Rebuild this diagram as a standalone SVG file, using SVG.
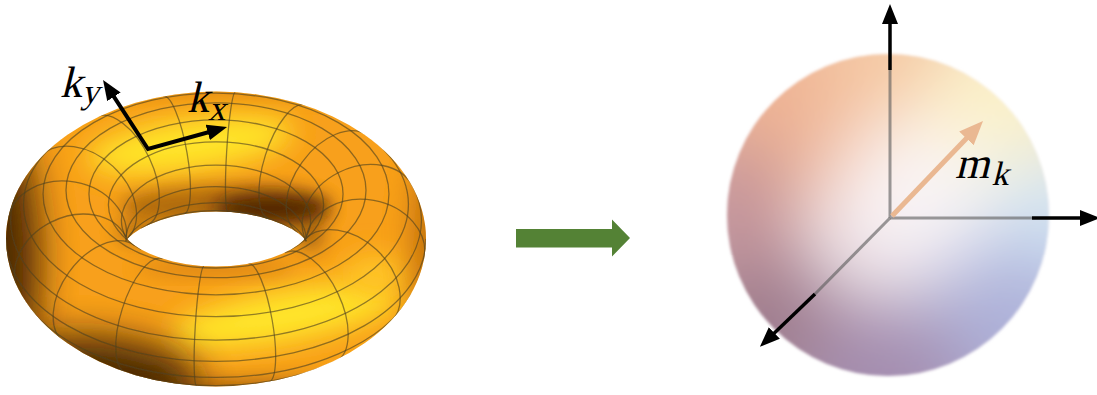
<svg xmlns="http://www.w3.org/2000/svg" width="1097" height="395" viewBox="0 0 1097 395">
  <defs>
    <style>
      .mesh{fill:none;stroke:#4f4220;stroke-opacity:.62;stroke-width:1.3}
      .mer{vector-effect:non-scaling-stroke}
      .math{font-family:"Liberation Serif","DejaVu Serif",serif;font-style:normal;fill:#000}
      .axis-in{fill:none;stroke:#5a5a5a;stroke-opacity:.6;stroke-width:3}
      .axis-out{fill:none;stroke:#000;stroke-width:3.5;marker-end:url(#head)}
    </style>
    <marker id="head" markerUnits="userSpaceOnUse" markerWidth="20" markerHeight="16" viewBox="0 0 20 16" refX="10" refY="8" orient="auto-start-reverse">
      <path d="M0 0L20 8L0 16z" fill="#000"/>
    </marker>
    <marker id="head-m" markerUnits="userSpaceOnUse" markerWidth="24" markerHeight="20" viewBox="0 0 24 20" refX="12" refY="10" orient="auto">
      <path d="M0 0L24 10L0 20z" fill="#eab892"/>
    </marker>
    <!-- ring of the torus: outer silhouette minus the hole -->
    <clipPath id="torus-clip">
      <path clip-rule="evenodd" d="M6 239A210 147.45 0 1 0 426 239A210 147.45 0 1 0 6 239Z
        M127.5 239L128.74 237.49L133.28 233.53L140.15 228.99L149.18 224.39L160.14 220.13L172.69 216.53L186.44 213.81L201.01 212.12L216 211.55L230.99 212.12L245.56 213.81L259.31 216.53L271.86 220.13L282.82 224.39L291.85 228.99L298.72 233.53L303.26 237.49L304.5 239
        L303.26 240.51L298.72 244.47L291.85 249.01L282.82 253.61L271.86 257.87L259.31 261.47L245.56 264.19L230.99 265.88L216 266.45L201.01 265.88L186.44 264.19L172.69 261.47L160.14 257.87L149.18 253.61L140.15 249.01L133.28 244.47L128.74 240.51Z"/>
    </clipPath>
    <clipPath id="sphere-clip">
      <circle cx="888" cy="215" r="161"/>
    </clipPath>
    <filter id="blur9" x="-100%" y="-100%" width="300%" height="300%"><feGaussianBlur stdDeviation="9"/></filter>
    <filter id="blur14" x="-100%" y="-100%" width="300%" height="300%"><feGaussianBlur stdDeviation="14"/></filter>
    <filter id="blur18" x="-100%" y="-100%" width="300%" height="300%"><feGaussianBlur stdDeviation="18"/></filter>
    <filter id="blur35" x="-100%" y="-100%" width="300%" height="300%"><feGaussianBlur stdDeviation="38"/></filter>
    <filter id="soft" x="-5%" y="-5%" width="110%" height="110%"><feGaussianBlur stdDeviation="0.7"/></filter>
    <filter id="soft-rim" x="-5%" y="-5%" width="110%" height="110%"><feGaussianBlur stdDeviation="1.4"/></filter>
  </defs>

  <rect width="1097" height="395" fill="#fff"/>

  <!-- torus surface with its shading -->
  <g id="torus" filter="url(#soft)">
    <g clip-path="url(#torus-clip)">
      <rect x="0" y="80" width="440" height="320" fill="#f8a01a"/>
      <ellipse cx="190" cy="145" rx="105" ry="26" transform="rotate(-8 190 145)" fill="#ffe62a" filter="url(#blur14)"/>
      <ellipse cx="285" cy="316" rx="115" ry="26" transform="rotate(-10 285 316)" fill="#ffe62a" filter="url(#blur14)"/>
      <ellipse cx="375" cy="275" rx="32" ry="20" fill="#ffc626" filter="url(#blur14)"/>
      <ellipse cx="225" cy="206" rx="105" ry="20" fill="#5a2a00" opacity=".45" filter="url(#blur9)"/>
      <ellipse cx="272" cy="209" rx="58" ry="16" fill="#3a1800" opacity=".8" filter="url(#blur9)"/>
      <ellipse cx="310" cy="236" rx="14" ry="14" fill="#5a2a00" opacity=".5" filter="url(#blur9)"/>
      <ellipse cx="136" cy="232" rx="20" ry="12" fill="#6a3500" opacity=".4" filter="url(#blur9)"/>
      <ellipse cx="216" cy="268" rx="80" ry="6" fill="#b05a00" opacity=".5" filter="url(#blur9)"/>
      <ellipse cx="-5" cy="260" rx="45" ry="140" fill="#3c1c00" opacity=".9" filter="url(#blur18)"/>
      <ellipse cx="80" cy="385" rx="120" ry="50" fill="#2e1400" opacity=".85" filter="url(#blur18)"/>
      <ellipse cx="270" cy="402" rx="190" ry="22" fill="#6a3400" opacity=".55" filter="url(#blur9)"/>
      <ellipse cx="440" cy="240" rx="28" ry="110" fill="#9a4e00" opacity=".55" filter="url(#blur14)"/>
      <ellipse cx="216" cy="86" rx="180" ry="12" fill="#d07a10" opacity=".45" filter="url(#blur9)"/>
    </g>

    <!-- mesh: parallels (circles of constant tube angle) -->
    <g id="torus-parallels" class="mesh" clip-path="url(#torus-clip)">
      <path d="M426 239A210 122.43 0 0 1 6 239"/>
      <path d="M412.15 184.74A205.43 119.77 0 1 1 19.85 184.74"/>
      <path d="M350.03 124.03A192.43 112.19 0 1 1 81.97 124.03"/>
      <ellipse cx="216" cy="193.96" rx="172.96" ry="100.84"/>
      <ellipse cx="216" cy="190.25" rx="150" ry="87.45"/>
      <ellipse cx="216" cy="193.96" rx="127.04" ry="74.06"/>
      <path d="M141.08 249.53A107.57 62.71 0 1 1 290.92 249.53"/>
      <path d="M125.7 236.72A94.57 55.13 0 1 1 306.3 236.72"/>
      <path d="M126 239A90 52.47 0 0 1 306 239"/>
      <path d="M125.7 241.28A94.57 55.13 0 0 1 306.3 241.28"/>
      <path d="M141.08 228.47A107.57 62.71 0 0 1 290.92 228.47"/>
      <path d="M350.03 353.97A192.43 112.19 0 0 1 81.97 353.97"/>
      <path d="M412.15 293.26A205.43 119.77 0 0 1 19.85 293.26"/>
    </g>

    <!-- mesh: meridians (tube cross-sections), unit circles mapped onto the surface -->
    <g id="torus-meridians" class="mesh" clip-path="url(#torus-clip)">
      <path class="mer" transform="matrix(59.67 3.655 0 -48.75 365.18 248.14)" d="M.9896 -.1441A1 1 0 0 1 -.9896 .1441"/>
      <path class="mer" transform="matrix(52.73 16.69 0 -48.75 347.82 280.73)" d="M.8326 -.5537A1 1 0 0 1 -.8326 .5537"/>
      <path class="mer" transform="matrix(37.76 27.18 0 -48.75 310.4 306.96)" d="M.6784 -.7347A1 1 0 0 1 -.6784 .7347"/>
      <path class="mer" transform="matrix(17.04 33.54 0 -48.75 258.6 322.85)" d="M.5992 -.8006A1 1 0 0 1 -.5992 .8006"/>
      <path class="mer" transform="matrix(-6.27 34.79 0 -48.75 200.33 325.97)" d="M.5851 -.8109A1 1 0 0 1 -.5851 .8109"/>
      <path class="mer" transform="matrix(-28.63 30.74 0 -48.75 144.42 315.85)" d="M.6325 -.7746A1 1 0 0 1 -.6325 .7746"/>
      <path class="mer" transform="matrix(-46.63 22.01 0 -48.75 99.44 294.03)" d="M.7518 -.6593A1 1 0 0 1 -.7518 .6593"/>
      <path class="mer" transform="matrix(-57.53 9.93 0 -48.75 72.18 263.84)" d="M.9298 -.3681A1 1 0 0 1 -.9298 .3681"/>
      <path class="mer" transform="matrix(-59.67 -3.655 0 -48.75 66.83 229.86)" d="M.9896 .1441A1 1 0 0 1 -.9896 -.1441"/>
      <path class="mer" transform="matrix(-52.73 -16.69 0 -48.75 84.18 197.27)" d="M.8326 .5537A1 1 0 0 1 -.8326 -.5537"/>
      <path class="mer" transform="matrix(-37.76 -27.18 0 -48.75 121.6 171.04)" d="M.6784 .7347A1 1 0 0 1 -.6784 -.7347"/>
      <path class="mer" transform="matrix(-17.04 -33.54 0 -48.75 173.4 155.15)" d="M.5992 .8006A1 1 0 0 1 -.5992 -.8006"/>
      <path class="mer" transform="matrix(6.27 -34.79 0 -48.75 231.68 152.03)" d="M.5851 .8109A1 1 0 0 1 -.5851 -.8109"/>
      <path class="mer" transform="matrix(28.63 -30.74 0 -48.75 287.58 162.15)" d="M.6325 .7746A1 1 0 0 1 -.6325 -.7746"/>
      <path class="mer" transform="matrix(46.63 -22.01 0 -48.75 332.57 183.97)" d="M.7518 .6593A1 1 0 0 1 -.7518 -.6593"/>
      <path class="mer" transform="matrix(57.53 -9.93 0 -48.75 359.82 214.16)" d="M.9298 .3681A1 1 0 0 1 -.9298 -.3681"/>
    </g>
  </g>

  <!-- momentum directions on the torus -->
  <g id="k-axes">
    <path d="M108.5 88.4L148 149L217.4 129.7" fill="none" stroke="#000" stroke-width="4" stroke-linejoin="miter" marker-start="url(#head)" marker-end="url(#head)"/>
    <!-- slanted serif lettering for the math symbols -->
    <text class="math" transform="translate(60 97) skewX(-14)" font-size="44">k<tspan dx="1" dy="6" font-size="35">y</tspan></text>
    <text class="math" transform="translate(187 112) skewX(-14)" font-size="44">k<tspan dx="1" dy="8" font-size="35">x</tspan></text>
  </g>

  <g id="connectors">
    <polygon id="map-arrow" points="516,229 612,229 612,219.5 630,238 612,256.5 612,247.5 516,247.5" fill="#548235"/>
  </g>

  <!-- Bloch-type sphere -->
  <g id="sphere" filter="url(#soft-rim)">
    <g clip-path="url(#sphere-clip)">
      <rect x="720" y="50" width="340" height="330" fill="#ead8e0"/>
      <g filter="url(#blur35)">
        <circle cx="785" cy="105" r="105" fill="#efb494"/>
        <circle cx="895" cy="55" r="75" fill="#f5c8a2"/>
        <circle cx="1010" cy="105" r="85" fill="#fbf1c8"/>
        <circle cx="1055" cy="235" r="80" fill="#d2e5f4"/>
        <circle cx="1005" cy="335" r="95" fill="#aeb2da"/>
        <circle cx="880" cy="395" r="95" fill="#a48eb0"/>
        <circle cx="755" cy="320" r="80" fill="#9e7c8c"/>
        <circle cx="730" cy="205" r="65" fill="#c39297"/>
        <circle cx="910" cy="195" r="80" fill="#fff" opacity=".7"/>
      </g>
    </g>
  </g>

  <g id="sphere-axes">
    <path class="axis-in" d="M890 218V70M890 218H1032"/>
    <path class="axis-in" d="M890 218L815 294" stroke="#3e3040" stroke-opacity=".7"/>
    <path class="axis-out" d="M890 70V14"/>
    <path class="axis-out" d="M1032 218H1090"/>
    <path class="axis-out" d="M815 294L767.1 339.9"/>
  </g>

  <g id="m-vector">
    <path d="M892 216L974.7 129.7" fill="none" stroke="#eab892" stroke-width="5" marker-end="url(#head-m)"/>
    <text class="math" transform="translate(955 178) skewX(-14)" font-size="44">m<tspan dx="4" dy="7" font-size="34">k</tspan></text>
  </g>
</svg>
